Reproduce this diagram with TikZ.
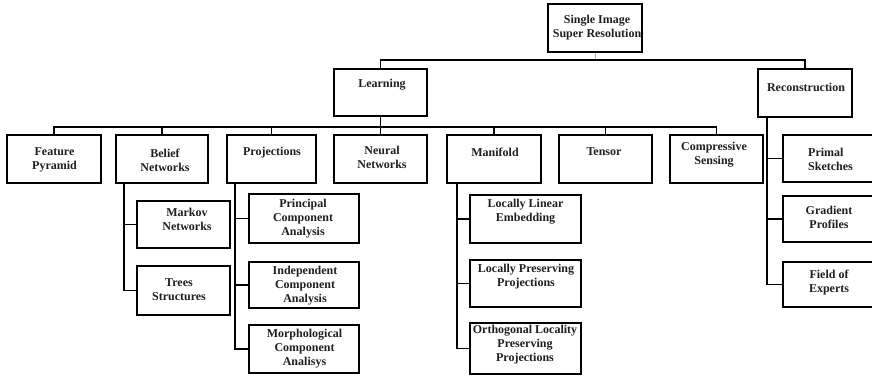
\documentclass[tikz,border=0pt]{standalone}
\usepackage{fontspec}
\setmainfont{Liberation Serif}
\usetikzlibrary{calc}

% box drawn from its corner coordinates: name, x1, y1, x2, y2, style
\newcommand\mkbox[6]{%
  \node[#6, minimum width={(#4-#2)*1pt}, minimum height={(#5-#3)*1pt}]
    (#1) at ({(#2+#4)/2},{(#3+#5)/2}) {};}

\tikzset{
  bx/.style={draw, line width=1.6pt, inner sep=0pt, fill=white},
  bxk/.style={bx, line width=2pt},
  txt/.style={font=\fontsize{12}{14}\selectfont\bfseries, align=center,
              inner sep=0pt, text=black!88},
  conn/.style={line width=1.8pt},
  faint/.style={line width=0.6pt, black!30},
}

\begin{document}
\begin{tikzpicture}[x=1pt, y=-1pt]
\useasboundingbox (0,0) rectangle (872,376);
\fill[white] (0,0) rectangle (872,376);
\clip (0,0) rectangle (872,376);

% ---- boxes ----
\mkbox{root}{548}{4}{642}{52}{bx}
\mkbox{learn}{334}{69}{427}{116}{bx}
\mkbox{recon}{758}{69}{852}{117}{bx}

\mkbox{fp}{7}{135}{101}{183}{bx}
\mkbox{bn}{116}{135}{208}{183}{bx}
\mkbox{pj}{227}{135}{316}{183}{bx}
\mkbox{nn}{334}{135}{427}{183}{bx}
\mkbox{mf}{447}{135}{541}{183}{bx}
\mkbox{tn}{559}{135}{652}{183}{bx}
\mkbox{cs}{670}{135}{763}{183}{bx}

\mkbox{ps}{783}{135}{890}{182}{bx}
\mkbox{gp}{783}{196}{890}{242}{bx}
\mkbox{fe}{783}{262}{890}{307}{bx}

\mkbox{mk}{137}{201}{230}{248}{bx}
\mkbox{tr}{137}{266}{230}{315}{bx}

\mkbox{pca}{249}{194}{359}{243}{bxk}
\mkbox{ica}{249}{262}{359}{308}{bxk}
\mkbox{mca}{249}{325}{359}{373}{bxk}

\mkbox{lle}{470}{195}{581}{243}{bxk}
\mkbox{lpp}{470}{260}{581}{307}{bxk}
\mkbox{olpp}{470}{323}{581}{374}{bxk}

% ---- labels ----
\node[txt] (t-root) at (597,28) {Single Image\\Super Resolution};
\node[txt] (t-learn) at (382,85) {Learning};
\node[txt] (t-recon) at (806,87) {Reconstruction};
\node[txt] (t-fp) at (54.5,160) {Feature\\Pyramid};
\node[txt] (t-bn) at (165,160) {Belief\\Networks};
\node[txt] (t-pj) at (272,153) {Projections};
\node[txt] (t-nn) at (382,157) {Neural\\Networks};
\node[txt] (t-mf) at (495,152) {Manifold};
\node[txt] (t-tn) at (604,152) {Tensor};
\node[txt] (t-cs) at (714,154.5) {Compressive\\Sensing};
\node[txt, align=left, anchor=west] (t-ps) at (808,159) {Primal\\Sketches};
\node[txt] (t-gp) at (829,217) {Gradient\\Profiles};
\node[txt] (t-fe) at (829,283) {Field of\\Experts};
\node[txt] (t-mk) at (187,219) {Markov\\Networks};
\node[txt] (t-tr) at (179,289.5) {Trees\\Structures};
\node[txt] (t-pca) at (303,219) {Principal\\Component\\Analysis};
\node[txt] (t-ica) at (305,285.5) {Independent\\Component\\Analysis};
\node[txt] (t-mca) at (304.5,349) {Morphological\\Component\\Analisys};
\node[txt] (t-lle) at (525.5,212) {Locally Linear\\Embedding};
\node[txt] (t-lpp) at (526,277) {Locally Preserving\\Projections};
\node[txt] (t-olpp) at (525,345) {Orthogonal Locality\\Preserving\\Projections};

% ---- top level bus ----
\coordinate (bus1) at (595,60);
\draw[faint] (root.south) -- (bus1);
\draw[conn] (learn.north) |- (bus1) -| (recon.north);

% ---- second level bus ----
\coordinate (bus2) at (380.5,127);
\draw[conn] (learn.south) -- (bus2);
\draw[conn] (fp.north) |- (bus2) -| (cs.north);
\foreach \n in {bn,pj,nn,mf,tn}
  \draw[conn] (\n.north) -- (\n.north |- bus2);

% ---- branches below boxes ----
\coordinate (bnv) at ($(bn.south west)+(9,0)$);
\draw[conn] (bnv) |- (mk.west);
\draw[conn] (bnv) |- (tr.west);

\coordinate (pjv) at ($(pj.south west)+(9,0)$);
\draw[conn] (pjv) |- (pca.west);
\draw[conn] (pjv) |- (ica.west);
\draw[conn] (pjv) |- (mca.west);

\coordinate (mfv) at ($(mf.south west)+(11,0)$);
\draw[conn] (mfv) |- (lle.west);
\draw[conn] (mfv) |- (lpp.west);
\draw[conn] (mfv) |- (olpp.west);

\coordinate (rcv) at ($(recon.south west)+(10,0)$);
\draw[conn] (rcv) |- (ps.west);
\draw[conn] (rcv) |- (gp.west);
\draw[conn] (rcv) |- (fe.west);
\end{tikzpicture}
\end{document}
